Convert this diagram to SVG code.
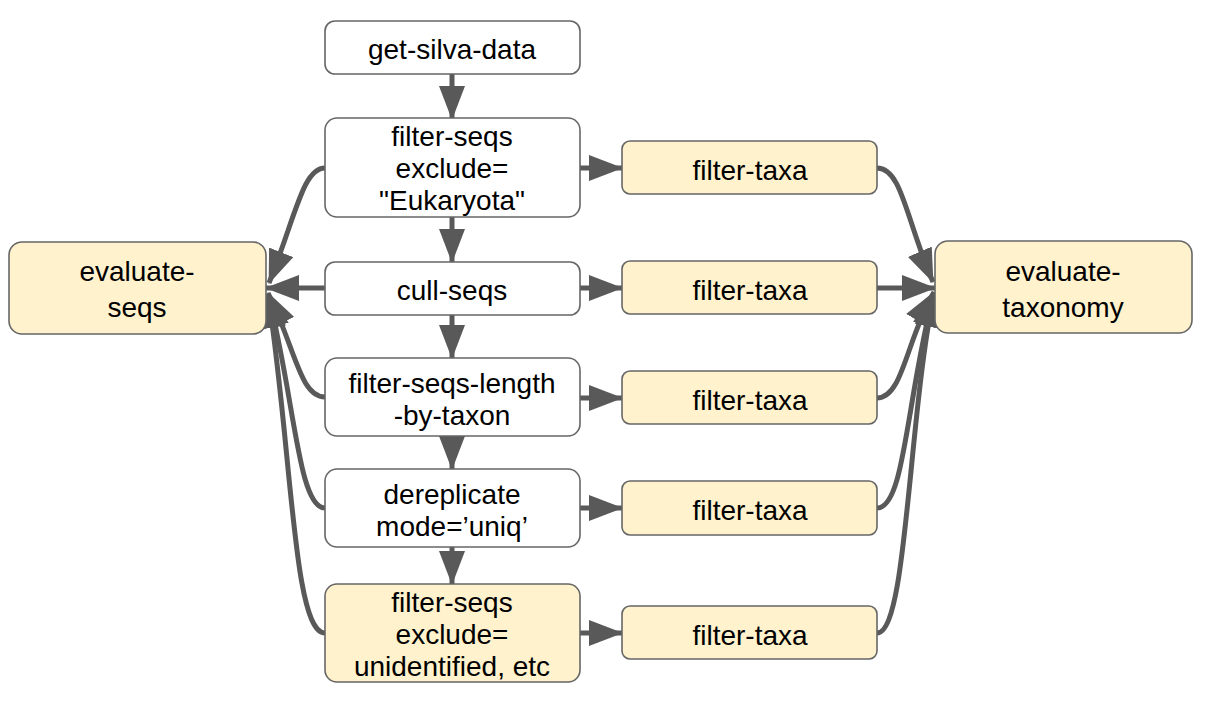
<svg xmlns="http://www.w3.org/2000/svg" width="1206" height="706" viewBox="0 0 1206 706">
<style>
.box{fill:#ffffff;stroke:#666666;stroke-width:1.6}
.yel{fill:#fff2cc;stroke:#666666;stroke-width:1.6}
.t{font-family:"Liberation Sans",Arial,sans-serif;font-size:28px;fill:#000000;text-anchor:middle}
.e{fill:none;stroke:#595959;stroke-width:5}
</style>
<defs>
<marker id="ah" markerUnits="userSpaceOnUse" markerWidth="34" markerHeight="26" viewBox="0 0 34 26" refX="33" refY="13" orient="auto">
<path d="M0,0 L34,13 L0,26 z" fill="#595959"/>
</marker>
</defs>
<rect width="1206" height="706" fill="#ffffff"/>
<g id="edges">
<path class="e" marker-end="url(#ah)" d="M452,74 L452,119"/>
<path class="e" marker-end="url(#ah)" d="M452,217 L452,262"/>
<path class="e" marker-end="url(#ah)" d="M452,314 L452,358"/>
<path class="e" marker-end="url(#ah)" d="M452,436 L452,469"/>
<path class="e" marker-end="url(#ah)" d="M452,547 L452,584"/>
<path class="e" marker-end="url(#ah)" d="M580,168 L622,168"/>
<path class="e" marker-end="url(#ah)" d="M580,288 L622,288"/>
<path class="e" marker-end="url(#ah)" d="M580,398 L622,398"/>
<path class="e" marker-end="url(#ah)" d="M580,508 L622,508"/>
<path class="e" marker-end="url(#ah)" d="M580,633 L622,633"/>
<path class="e" marker-end="url(#ah)" d="M325,168 C303,168 296,215 269,283"/>
<path class="e" marker-end="url(#ah)" d="M325,288 L266,288"/>
<path class="e" marker-end="url(#ah)" d="M325,397 C300,397 296,350 268,293"/>
<path class="e" marker-end="url(#ah)" d="M325,508 C298,508 295,400 268,294"/>
<path class="e" marker-end="url(#ah)" d="M325,633 C293,633 292,450 268,295"/>
<path class="e" marker-end="url(#ah)" d="M877,168 C902,168 906,220 933,282"/>
<path class="e" marker-end="url(#ah)" d="M877,288 L935,288"/>
<path class="e" marker-end="url(#ah)" d="M877,398 C903,398 906,340 934,292"/>
<path class="e" marker-end="url(#ah)" d="M877,508 C905,508 906,400 934,293"/>
<path class="e" marker-end="url(#ah)" d="M877,633 C907,633 908,420 934,294"/>
</g>
<g id="get-silva-data">
<rect class="box" x="325" y="21" width="255" height="53" rx="10"/>
<text class="t" x="452" y="59">get-silva-data</text>
</g>
<g id="filter-seqs-euk">
<rect class="box" x="325" y="118" width="255" height="99" rx="12"/>
<text class="t" x="452" y="146">filter-seqs</text>
<text class="t" x="452" y="178">exclude=</text>
<text class="t" x="452" y="210">"Eukaryota"</text>
</g>
<g id="cull-seqs">
<rect class="box" x="325" y="262" width="255" height="53" rx="10"/>
<text class="t" x="452" y="300">cull-seqs</text>
</g>
<g id="filter-seqs-length">
<rect class="box" x="325" y="358" width="255" height="78" rx="12"/>
<text class="t" x="452" y="393">filter-seqs-length</text>
<text class="t" x="452" y="425">-by-taxon</text>
</g>
<g id="dereplicate">
<rect class="box" x="325" y="469" width="255" height="78" rx="12"/>
<text class="t" x="452" y="504">dereplicate</text>
<text class="t" x="452" y="536">mode=’uniq’</text>
</g>
<g id="filter-seqs-unid">
<rect class="yel" x="325" y="584" width="255" height="98" rx="12"/>
<text class="t" x="452" y="612">filter-seqs</text>
<text class="t" x="452" y="644">exclude=</text>
<text class="t" x="452" y="676">unidentified, etc</text>
</g>
<g id="filter-taxa-1">
<rect class="yel" x="622" y="141" width="255" height="53" rx="8"/>
<text class="t" x="750" y="180">filter-taxa</text>
</g>
<g id="filter-taxa-2">
<rect class="yel" x="622" y="261" width="255" height="53" rx="8"/>
<text class="t" x="750" y="300">filter-taxa</text>
</g>
<g id="filter-taxa-3">
<rect class="yel" x="622" y="371" width="255" height="53" rx="8"/>
<text class="t" x="750" y="410">filter-taxa</text>
</g>
<g id="filter-taxa-4">
<rect class="yel" x="622" y="481" width="255" height="54" rx="8"/>
<text class="t" x="750" y="520">filter-taxa</text>
</g>
<g id="filter-taxa-5">
<rect class="yel" x="622" y="606" width="255" height="53" rx="8"/>
<text class="t" x="750" y="645">filter-taxa</text>
</g>
<g id="evaluate-seqs">
<rect class="yel" x="9" y="242" width="257" height="92" rx="13"/>
<text class="t" x="137" y="281">evaluate-</text>
<text class="t" x="137" y="317">seqs</text>
</g>
<g id="evaluate-taxonomy">
<rect class="yel" x="935" y="241" width="257" height="92" rx="13"/>
<text class="t" x="1063" y="281">evaluate-</text>
<text class="t" x="1063" y="317">taxonomy</text>
</g>
</svg>
